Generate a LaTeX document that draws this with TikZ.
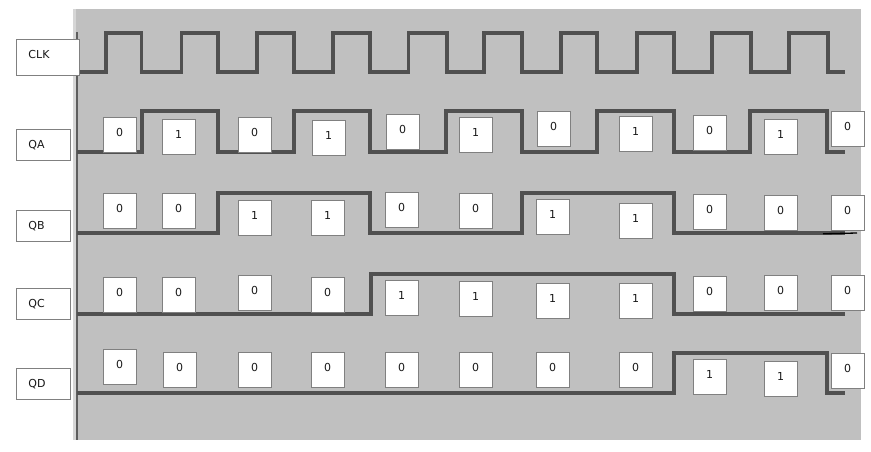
\documentclass[tikz,border=0pt]{standalone}
\usepackage{fontspec}
\setmainfont{DejaVu Sans}
\begin{document}
\begin{tikzpicture}[x=1pt,y=-1pt,
  wave/.style={draw=wavecol,line width=3.2pt,line join=miter,line cap=butt},
  valbox/.style={draw=boxcol,line width=0.9pt,fill=white,minimum width=33pt,minimum height=35pt,
    inner sep=0pt,text height=8pt,text depth=4pt,font=\fontsize{11}{13}\selectfont,text=black!90},
  labbox/.style={draw=boxcol,line width=0.9pt,fill=white,inner ysep=0pt,inner xsep=12pt,
    align=left,anchor=north west,font=\fontsize{11}{13}\selectfont,text=black!90}]
\definecolor{bgcol}{HTML}{C0C0C0}
\definecolor{wavecol}{HTML}{505050}
\definecolor{boxcol}{HTML}{808080}
\definecolor{axiscol}{HTML}{5E5E5E}
\useasboundingbox (0,0) rectangle (871,452);
\fill[white] (0,0) rectangle (871,452);
% background panel
\fill[bgcol] (73,9.5) rectangle (861,440);
\fill[black!16] (73,9.5) rectangle (75.5,440);
% axis
\coordinate (axtop) at (77,32);
\coordinate (axbot) at (77,440);
\draw[axiscol,line width=1.6pt] (axtop) -- (axbot);
% CLK
\draw[wave] (77,72) -- (106,72) -- (106,33) -- (141.5,33) -- (141.5,72)
  -- (181.5,72) -- (181.5,33) -- (218,33) -- (218,72)
  -- (257,72) -- (257,33) -- (294,33) -- (294,72)
  -- (333,72) -- (333,33) -- (370,33) -- (370,72)
  -- (408.5,72) -- (408.5,33) -- (447,33) -- (447,72)
  -- (484,72) -- (484,33) -- (522,33) -- (522,72)
  -- (561,72) -- (561,33) -- (597,33) -- (597,72)
  -- (637,72) -- (637,33) -- (674,33) -- (674,72)
  -- (712,72) -- (712,33) -- (751,33) -- (751,72)
  -- (789,72) -- (789,33) -- (828,33) -- (828,72) -- (845,72);
% QA
\draw[wave] (77,152) -- (142,152) -- (142,111) -- (218,111) -- (218,152)
  -- (294,152) -- (294,111) -- (370,111) -- (370,152)
  -- (446,152) -- (446,111) -- (522,111) -- (522,152)
  -- (597,152) -- (597,111) -- (674,111) -- (674,152)
  -- (750,152) -- (750,111) -- (827,111) -- (827,152) -- (845,152);
% QB
\draw[wave] (77,233) -- (218,233) -- (218,193) -- (370,193) -- (370,233)
  -- (522,233) -- (522,193) -- (674,193) -- (674,233) -- (845,233);
\coordinate (qbx1) at (823,233.8);
\coordinate (qbx2) at (857,233);
\draw[black,line width=1.3pt] (qbx1) -- (qbx2);
% QC
\draw[wave] (77,314) -- (371,314) -- (371,274) -- (674,274) -- (674,314) -- (845,314);
% QD
\draw[wave] (77,393) -- (674,393) -- (674,353) -- (827,353) -- (827,393) -- (845,393);
% label boxes
\node[labbox,text width=39pt,minimum height=36pt,text height=8pt,text depth=5pt] (lclk) at (16,39) {CLK};
\node[labbox,text width=30pt,minimum height=31pt] (lqa) at (16,129) {QA};
\node[labbox,text width=30pt,minimum height=31pt] (lqb) at (16,210) {QB};
\node[labbox,text width=30pt,minimum height=31pt] (lqc) at (16,288) {QC};
\node[labbox,text width=30pt,minimum height=31pt] (lqd) at (16,368) {QD};
% value boxes
\foreach \x/\y/\v [count=\i] in {103/117/0,162/119/1,238/117/0,312/120/1,386/114/0,459/117/1,537/111/0,619/116/1,693/115/0,764/119/1,831/111/0}
  \node[valbox] (a\i) at (\x+16.5,\y+17.5) {\v};
\foreach \x/\y/\v [count=\i] in {103/193/0,162/193/0,238/200/1,311/200/1,385/192/0,459/193/0,536/199/1,619/203/1,693/194/0,764/195/0,831/195/0}
  \node[valbox] (b\i) at (\x+16.5,\y+17.5) {\v};
\foreach \x/\y/\v [count=\i] in {103/277/0,162/277/0,238/275/0,311/277/0,385/280/1,459/281/1,536/283/1,619/283/1,693/276/0,764/275/0,831/275/0}
  \node[valbox] (c\i) at (\x+16.5,\y+17.5) {\v};
\foreach \x/\y/\v [count=\i] in {103/349/0,163/352/0,238/352/0,311/352/0,385/352/0,459/352/0,536/352/0,619/352/0,693/359/1,764/361/1,831/353/0}
  \node[valbox] (d\i) at (\x+16.5,\y+17.5) {\v};
\end{tikzpicture}
\end{document}
